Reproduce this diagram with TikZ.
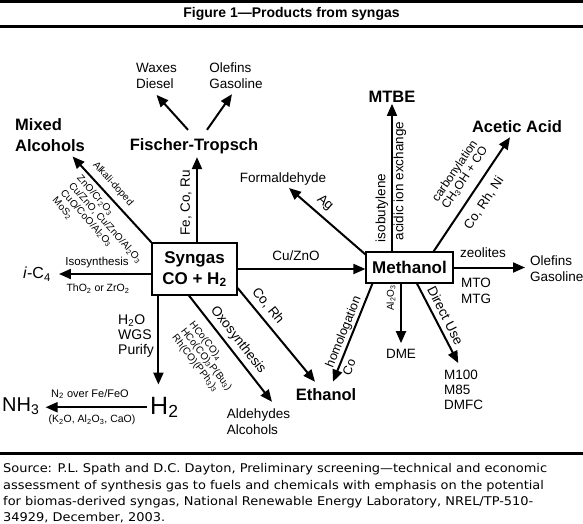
\documentclass[tikz,border=0pt]{standalone}
\usepackage{fontspec}
\setmainfont{Liberation Sans}
\newfontfamily\sourcefont{DejaVu Sans}
\usetikzlibrary{arrows.meta}
\tikzset{
  product/.style={font=\bfseries\fontsize{16.5}{21}\selectfont, inner sep=1pt},
  reagent/.style={font=\fontsize{13.5}{16}\selectfont, inner sep=1pt},
  catalyst/.style={font=\fontsize{10}{11}\selectfont, inner sep=0.5pt},
  feed/.style={draw, line width=1.2pt, font=\bfseries\fontsize{17}{21}\selectfont, align=center},
  route/.style={line width=2pt, -{Triangle[length=12pt,width=10pt]}},
  rule/.style={line width=2.8pt},
}
\begin{document}
\begin{tikzpicture}[x=1pt,y=-1pt]
\fill[white] (0,0) rectangle (583,524);
\useasboundingbox (0,0) rectangle (583,524);
% title bar
\draw[rule] (0,1.4) -- (583,1.4);
\draw[rule] (0,26.7) -- (583,26.7);
\node[font=\bfseries\fontsize{14}{14}\selectfont] (title) at (291.5,14) {Figure 1—Products from syngas};
% feed gas and methanol
\node[feed, minimum width=85pt, minimum height=52pt] (syngas) at (194.5,269) {Syngas\\CO + H\textsubscript{2}};
\node[feed, minimum width=87pt, minimum height=31pt, inner sep=1pt] (methanol) at (409.5,267.5) {Methanol};
% products
\node[product, anchor=base] (ft) at (194,150) {Fischer-Tropsch};
\node[reagent, align=left] (waxes) at (156.5,76) {Waxes\\Diesel};
\node[reagent, align=left] (olefft) at (236,76) {Olefins\\Gasoline};
\node[product, align=left, anchor=north west] (mixalc) at (14,117) {Mixed\\Alcohols};
\node[font=\fontsize{16}{16}\selectfont, inner sep=1pt] (ic4) at (37,274) {\textit{i}-C\textsubscript{4}};
\node[font=\fontsize{25}{25}\selectfont, anchor=base west, inner sep=0pt] (htwo) at (150,414) {H\textsubscript{2}};
\node[font=\fontsize{20}{20}\selectfont, anchor=base west, inner sep=0pt] (nhthree) at (2,411) {NH\textsubscript{3}};
\node[reagent, align=left] (aldalc) at (258.5,422) {Aldehydes\\Alcohols};
\node[product] (ethanol) at (326,395) {Ethanol};
\node[reagent] (formald) at (283,179) {Formaldehyde};
\node[product] (mtbe) at (392,97) {MTBE};
\node[product] (acetic) at (517,127) {Acetic Acid};
\node[reagent, align=left, anchor=west] (olefmt) at (529,268.5) {Olefins\\Gasoline};
\node[reagent] (dme) at (401,354) {DME};
\node[reagent, font=\fontsize{13.5}{15}\selectfont, align=left, anchor=west] (mfuel) at (443,390) {M100\\M85\\DMFC};
% process labels
\node[reagent] (cuzno) at (296,256) {Cu/ZnO};
\node[reagent, rotate=90] (fecoru) at (186,203) {Fe, Co, Ru};
\node[catalyst, rotate=-48, anchor=west] (alkali) at (94,163) {Alkali-doped};
\node[catalyst, rotate=-48, align=left, anchor=north west] (alkcat) at (82,173) {ZnO/Cr\textsubscript{2}O\textsubscript{3}\\Cu/ZnO, Cu/ZnO/Al\textsubscript{2}O\textsubscript{3}\\CuO/CoO/Al\textsubscript{2}O\textsubscript{3}\\MoS\textsubscript{2}};
\node[font=\fontsize{11.5}{12}\selectfont] (isosyn) at (97,263) {Isosynthesis};
\node[font=\fontsize{10.5}{12}\selectfont] (thzr) at (98,289) {ThO\textsubscript{2} or ZrO\textsubscript{2}};
\node[font=\fontsize{14}{15}\selectfont, align=left, anchor=west, inner sep=0pt] (wgs) at (118,336) {H\textsubscript{2}O\\WGS\\Purify};
\node[font=\fontsize{11}{12}\selectfont] (nover) at (90,394) {N\textsubscript{2} over Fe/FeO};
\node[font=\fontsize{10.5}{12}\selectfont] (kal) at (92,420) {(K\textsubscript{2}O, Al\textsubscript{2}O\textsubscript{3}, CaO)};
\node[reagent, rotate=-52] (oxo) at (238,340) {Oxosynthesis};
\node[catalyst, rotate=-52, align=left, anchor=north west] (oxocat) at (195,319) {HCo(CO)\textsubscript{4}\\HCo(CO)\textsubscript{3}P(Bu\textsubscript{3})\\Rh(CO)(PPh\textsubscript{3})\textsubscript{3}};
\node[reagent, rotate=-50.7] (corh) at (268,306) {Co, Rh};
\node[font=\fontsize{12.5}{13}\selectfont, rotate=68] (homol) at (344,332) {homologation};
\node[font=\fontsize{12.5}{13}\selectfont, rotate=68] (homco) at (349,367) {Co};
\node[reagent, rotate=-41] (ag) at (325,203) {Ag};
\node[reagent, rotate=90] (isob) at (382,208) {isobutylene};
\node[reagent, rotate=90] (acidic) at (400,181) {acidic ion exchange};
\node[font=\fontsize{12}{12}\selectfont, rotate=56, align=center] (carb) at (460,174.5) {carbonylation\\CH\textsubscript{3}OH + CO};
\node[reagent, font=\fontsize{13}{13}\selectfont, rotate=56] (corhni) at (484,203) {Co, Rh, Ni};
\node[reagent] (zeol) at (483,253) {zeolites};
\node[reagent, align=left, anchor=west] (mtomtg) at (460,291) {MTO\\MTG};
\node[catalyst, rotate=90] (alo) at (391,298) {Al\textsubscript{2}O\textsubscript{3}};
\node[reagent, rotate=-63] (direct) at (445.5,315.5) {Direct Use};
% routes out of syngas
\draw[route] (syngas.east) -- (syngas.east -| methanol.west);
\coordinate (ftfoot) at ([xshift=2.5pt]syngas.north);
\draw[route, shorten >=2.5pt] (ftfoot) -- (ftfoot |- ft.south);
\draw[route] ([xshift=-6pt,yshift=7pt]ft.north) -- ([yshift=-5pt]waxes.south);
\draw[route] ([xshift=13pt,yshift=7pt]ft.north) -- ([xshift=-4pt,yshift=-4pt]olefft.south);
\draw[route] (syngas.north west) -- ([xshift=-13.5pt,yshift=-4pt]mixalc.south east);
\draw[route, shorten >=7pt] ([yshift=-5pt]syngas.west) -- ([yshift=-5pt]syngas.west -| ic4.east);
\coordinate (htfoot) at ([xshift=7pt]syngas.south west);
\draw[route, shorten >=12pt] (htfoot) -- (htfoot |- htwo.north);
\draw[route, shorten <=3pt, shorten >=6pt] (htwo.west) -- (htwo.west -| nhthree.east);
\draw[route] ([xshift=-5.5pt]syngas.south) -- ([xshift=13.5pt,yshift=6pt]aldalc.north);
\draw[route] ([yshift=-19pt]syngas.east) -- ([xshift=-11pt,yshift=6pt]ethanol.north);
% routes out of methanol
\draw[route] ([xshift=7pt]methanol.south west) -- ([xshift=7pt,yshift=6pt]ethanol.north);
\draw[route] ([yshift=-3pt]methanol.north west) -- ([xshift=6pt,yshift=-1.5pt]formald.south);
\draw[route] (mtbe.south |- methanol.north) -- (mtbe.south);
\draw[route] ([xshift=-20pt]methanol.north east) -- ([xshift=-7pt,yshift=-3pt]acetic.south);
\draw[route, shorten >=4pt] (methanol.east) -- (methanol.east -| olefmt.west);
\draw[route, shorten >=5pt] (dme.north |- methanol.south) -- (dme.north);
\draw[route] ([xshift=7.5pt]methanol.south) -- ([xshift=-5.5pt,yshift=6pt]mfuel.north);
% source note
\draw[rule] (0,453.7) -- (583,453.7);
\node[font=\sourcefont\fontsize{12}{16.3}\selectfont, xscale=1.08, align=left, anchor=north west, inner sep=0pt] (source) at (3,463.5) {Source: P.L. Spath and D.C. Dayton, Preliminary screening—technical and economic\\assessment of synthesis gas to fuels and chemicals with emphasis on the potential\\for biomas-derived syngas, National Renewable Energy Laboratory, NREL/TP-510-\\34929, December, 2003.};
\end{tikzpicture}
\end{document}
